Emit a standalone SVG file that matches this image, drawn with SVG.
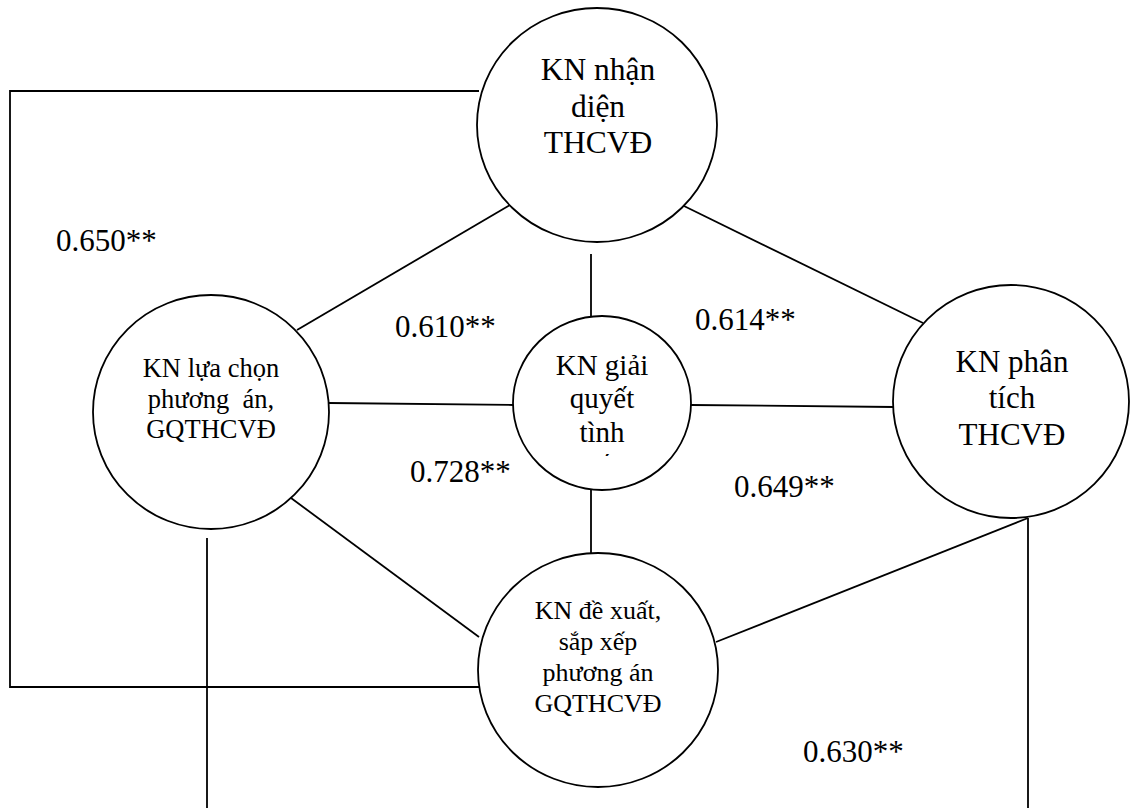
<svg xmlns="http://www.w3.org/2000/svg" width="1131" height="808" viewBox="0 0 1131 808">
<style>
.n{fill:#fff;stroke:#000;stroke-width:1.8}
.c{fill:none;stroke:#000;stroke-width:1.8}
text{fill:#000;text-anchor:middle}
.l{text-anchor:start;font-size:31px}
</style>
<defs>
<clipPath id="cc"><rect x="500" y="300" width="200" height="156"/></clipPath>
</defs>
<rect width="1131" height="808" fill="#fff"/>
<g id="connectors">
<polyline class="c" points="479,91 10,91 10,687 479,687"/>
<line class="c" x1="510" y1="205" x2="297" y2="330"/>
<line class="c" x1="591" y1="254" x2="591" y2="316"/>
<line class="c" x1="684" y1="206" x2="923" y2="323"/>
<line class="c" x1="329" y1="403" x2="513" y2="405"/>
<line class="c" x1="691" y1="405" x2="894" y2="407"/>
<line class="c" x1="291" y1="498" x2="479" y2="637"/>
<line class="c" x1="591" y1="490" x2="591" y2="553"/>
<line class="c" x1="1028" y1="518" x2="716" y2="642"/>
<line class="c" x1="207" y1="538" x2="207" y2="808"/>
<line class="c" x1="1028" y1="518" x2="1028" y2="808"/>
</g>
<g font-family="'Liberation Serif', 'Times New Roman', serif">
<g id="n-top">
<ellipse class="n" cx="597" cy="125" rx="120" ry="117"/>
<text font-size="31.5"><tspan x="598" y="80">KN nhận</tspan><tspan x="598" y="117">diện</tspan><tspan x="598" y="153">THCVĐ</tspan></text>
</g>
<g id="n-left">
<ellipse class="n" cx="211" cy="412" rx="118" ry="117"/>
<text font-size="26.5" xml:space="preserve"><tspan x="211" y="377">KN lựa chọn</tspan><tspan x="211" y="408">phương  án,</tspan><tspan x="211" y="438">GQTHCVĐ</tspan></text>
</g>
<g id="n-center">
<ellipse class="n" cx="602" cy="403" rx="89" ry="87"/>
<text font-size="29"><tspan x="602" y="375">KN giải</tspan><tspan x="602" y="408">quyết</tspan><tspan x="602" y="442">tình</tspan></text>
<text font-size="29" clip-path="url(#cc)" x="602" y="476">huống</text>
</g>
<g id="n-right">
<ellipse class="n" cx="1011" cy="401.5" rx="118" ry="116.5"/>
<text font-size="31"><tspan x="1012" y="372">KN phân</tspan><tspan x="1012" y="408">tích</tspan><tspan x="1012" y="445">THCVĐ</tspan></text>
</g>
<g id="n-bottom">
<ellipse class="n" cx="598" cy="670" rx="120" ry="117"/>
<text font-size="26"><tspan x="598" y="619">KN đề xuất,</tspan><tspan x="598" y="650">sắp xếp</tspan><tspan x="598" y="681">phương án</tspan><tspan x="598" y="712">GQTHCVĐ</tspan></text>
</g>
<g id="labels">
<text class="l" x="56" y="251">0.650**</text>
<text class="l" x="395" y="337">0.610**</text>
<text class="l" x="695" y="330">0.614**</text>
<text class="l" x="410" y="482">0.728**</text>
<text class="l" x="734" y="497">0.649**</text>
<text class="l" x="803" y="762">0.630**</text>
</g>
</g>
</svg>
